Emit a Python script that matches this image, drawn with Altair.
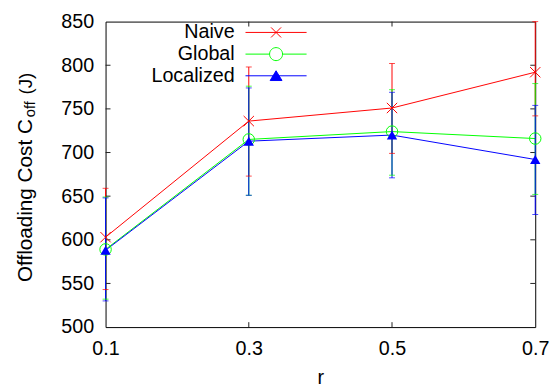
import altair as alt
import pandas as pd

r_vals = [0.1, 0.3, 0.5, 0.7]
series_names = ["Naive", "Global", "Localized"]
colors = ["#ff0000", "#00ff00", "#0000ff"]

naive_mean = [603, 736, 751, 792]
naive_low = [543, 673, 699, 742]
naive_high = [659, 798, 802, 850]

global_mean = [589, 715, 724, 716]
global_low = [532, 651, 674, 652]
global_high = [649, 776, 772, 779]

local_mean = [588, 713, 720, 692]
local_low = [530, 651, 671, 629]
local_high = [648, 774, 769, 754]

x_ticks = [0.1, 0.3, 0.5, 0.7]
y_ticks = [500, 550, 600, 650, 700, 750, 800, 850]
inner_x_ticks = [0.3, 0.5]
inner_y_ticks = [550, 600, 650, 700, 750, 800]

rows = []
for k, (name, m, lo, hi) in enumerate(zip(
        series_names,
        [naive_mean, global_mean, local_mean],
        [naive_low, global_low, local_low],
        [naive_high, global_high, local_high])):
    for i, r in enumerate(r_vals):
        rows.append({"r": r, "series": name, "mean": m[i], "low": lo[i],
                     "high": hi[i], "k": k})
df = pd.DataFrame(rows)

W, H = 436, 310
FONT = "Liberation Sans"

x_scale = alt.Scale(domain=[0.1, 0.7], nice=False, zero=False)
y_scale = alt.Scale(domain=[500, 850], nice=False, zero=False)

base = alt.Chart(df)

x_axis = alt.Axis(values=x_ticks, format=".1f", labelFontSize=20, tickSize=0,
                  domain=False, grid=False, labelPadding=12, title="r",
                  titleFontSize=20, titleFontWeight="normal", titlePadding=9,
                  labelColor="black", titleColor="black", labelFont=FONT,
                  titleFont=FONT, ticks=False, labelFlush=False)
y_axis = alt.Axis(values=y_ticks, format="d", labelFontSize=20, tickSize=0,
                  domain=False, grid=False, labelPadding=12, title=None,
                  labelColor="black", labelFont=FONT, ticks=False,
                  labelFlush=False)

X = alt.X("r:Q", scale=x_scale, axis=x_axis, title="r")
# colour of the data marks keyed on series index (kept separate from legend scales)
COLOR = alt.Color("k:N", scale=alt.Scale(domain=[0, 1, 2], range=colors), legend=None)

lines = base.mark_line(strokeWidth=1).encode(
    x=X,
    y=alt.Y("mean:Q", scale=y_scale, axis=y_axis),
    color=COLOR,
)

err_rules = base.mark_rule(strokeWidth=1).encode(
    x=X,
    y=alt.Y("low:Q", scale=y_scale, axis=y_axis),
    y2="high:Q",
    color=COLOR,
    order="k:Q",
)
cap_low = base.mark_tick(orient="horizontal", size=6, thickness=1).encode(
    x=X,
    y=alt.Y("low:Q", scale=y_scale, axis=y_axis),
    color=COLOR,
    order="k:Q",
)
cap_high = base.mark_tick(orient="horizontal", size=6, thickness=1).encode(
    x=X,
    y=alt.Y("high:Q", scale=y_scale, axis=y_axis),
    color=COLOR,
    order="k:Q",
)

X_PATH = "M-1,-1L1,1M-1,1L1,-1"
pts_naive = base.transform_filter(alt.datum.series == "Naive").mark_point(
    shape=X_PATH, size=110, filled=False, strokeWidth=1, opacity=1).encode(
    x=X, y=alt.Y("mean:Q", scale=y_scale, axis=y_axis), color=COLOR)
pts_global = base.transform_filter(alt.datum.series == "Global").mark_point(
    shape="circle", size=135, filled=False, strokeWidth=1, opacity=1).encode(
    x=X, y=alt.Y("mean:Q", scale=y_scale, axis=y_axis), color=COLOR)
pts_local = base.transform_filter(alt.datum.series == "Localized").mark_point(
    shape="triangle-up", size=110, filled=True, opacity=1).encode(
    x=X, y=alt.Y("mean:Q", scale=y_scale, axis=y_axis), color=COLOR)

# legend symbols: line sample with marker, drawn to the right of the label
legend_paths = [
    "M3.5,0H13.83M7.82,-0.85L9.52,0.85M7.82,0.85L9.52,-0.85",
    "M3.5,0H7.57M9.77,0H13.83M7.57,0A1.1,1.1 0 1,0 9.77,0A1.1,1.1 0 1,0 7.57,0",
    "M3.5,0H13.83M8.67,-0.85L9.67,0.8L7.67,0.8Z",
]
leg = alt.Legend(title=None, orient="none", legendX=111, legendY=1,
                 labelAlign="right", labelOffset=0,
                 labelFontSize=20,
                 labelFont=FONT, labelColor="black", symbolSize=144,
                 symbolStrokeWidth=1, rowPadding=2, padding=0,
                 symbolOpacity=1)
legend_layer = base.transform_filter("false").mark_point(strokeWidth=1).encode(
    x=X,
    y=alt.Y("mean:Q", scale=y_scale, axis=y_axis),
    shape=alt.Shape("series:N", scale=alt.Scale(domain=series_names, range=legend_paths), legend=leg),
    stroke=alt.Stroke("series:N", scale=alt.Scale(domain=series_names, range=colors), legend=leg),
    fill=alt.Fill("series:N", scale=alt.Scale(domain=series_names, range=["transparent", "transparent", "#0000ff"]), legend=leg),
)

tick_df = pd.DataFrame({"yt": inner_y_ticks})
xt_df = pd.DataFrame({"xt": inner_x_ticks})
tick_color = "#222222"
yt_left = alt.Chart(tick_df).mark_rule(color=tick_color, strokeWidth=1).encode(
    y=alt.Y("yt:Q", scale=y_scale, axis=y_axis), x=alt.value(0), x2=alt.value(5))
yt_right = alt.Chart(tick_df).mark_rule(color=tick_color, strokeWidth=1).encode(
    y=alt.Y("yt:Q", scale=y_scale, axis=y_axis), x=alt.value(W - 5), x2=alt.value(W))
xt_bot = alt.Chart(xt_df).mark_rule(color=tick_color, strokeWidth=1).encode(
    x=alt.X("xt:Q", scale=x_scale, axis=x_axis, title="r"), y=alt.value(H - 5), y2=alt.value(H))
xt_top = alt.Chart(xt_df).mark_rule(color=tick_color, strokeWidth=1).encode(
    x=alt.X("xt:Q", scale=x_scale, axis=x_axis, title="r"), y=alt.value(0), y2=alt.value(5))

# y-axis title with subscript
title_main = ["Offloading Cost C"]
title_sub = ["off"]
title_end = ["(J)"]
t_main = alt.Chart(pd.DataFrame({"t": title_main})).mark_text(
    angle=270, align="right", baseline="alphabetic", fontSize=21, font=FONT,
    color="black").encode(text="t:N", x=alt.value(-75), y=alt.value(99))
t_sub = alt.Chart(pd.DataFrame({"t": title_sub})).mark_text(
    angle=270, align="left", baseline="alphabetic", fontSize=15, font=FONT,
    color="black").encode(text="t:N", x=alt.value(-71.5), y=alt.value(97))
t_end = alt.Chart(pd.DataFrame({"t": title_end})).mark_text(
    angle=270, align="left", baseline="alphabetic", fontSize=19, font=FONT,
    color="black").encode(text="t:N", x=alt.value(-75), y=alt.value(74))

chart = alt.layer(
    lines, yt_left, yt_right, xt_bot, xt_top,
    err_rules, cap_low, cap_high,
    pts_naive, pts_global, pts_local, legend_layer,
    t_main, t_sub, t_end,
).properties(
    width=W, height=H,
    autosize=alt.AutoSizeParams(type="none"),
    padding={"left": 99, "top": 11, "right": 16, "bottom": 58},
).configure(font=FONT).configure_view(stroke="black", strokeWidth=1)

chart.save("out.html", embed_options={"renderer": "svg", "actions": False})
